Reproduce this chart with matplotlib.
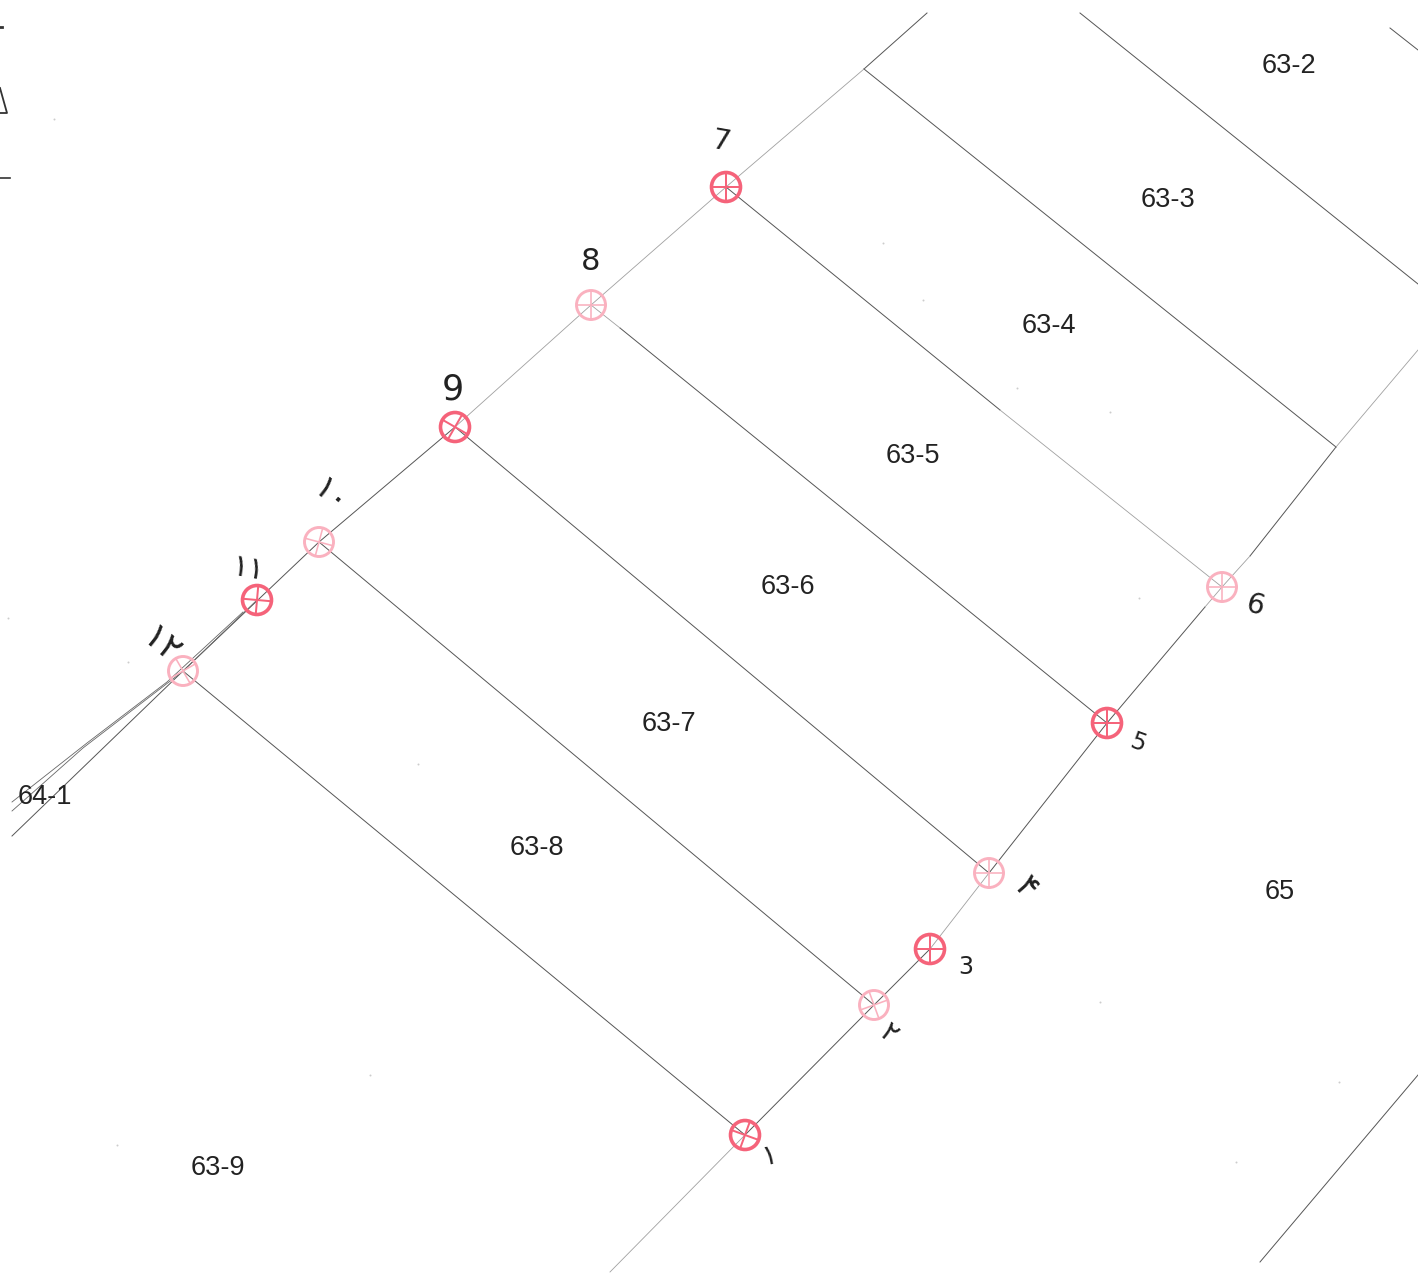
import matplotlib
matplotlib.use('Agg')
import matplotlib.pyplot as plt
import numpy as np

# parcel labels
parcel_names = ['63-2', '63-3', '63-4', '63-5', '63-6', '63-7', '63-8', '63-9', '64-1', '65']
parcel_x = [1289, 1168, 1049, 913, 788, 669, 537, 218, 45, 1280]
parcel_y = [66, 200, 326, 456, 587, 724, 848, 1168, 797, 892]

# survey points 1..12
point_x = [745, 874, 930, 989, 1107, 1222, 726, 591, 455, 319, 257, 183]
point_y = [1135, 1005, 949, 873, 723, 587, 187, 305, 427, 542, 600, 671]
point_dark = [1, 0, 1, 0, 1, 0, 1, 0, 1, 0, 1, 0]
point_spoke = [20, 70, 0, 0, 0, 0, 0, 0, 30, 15, 5, 60]

# handwritten numbers beside the points
hand_labels = ['۱', '۲', '3', '۴', '5', '6', '7', '8', '9', '۱۰', '۱۱', '۱۲']
hand_x = [769, 889, 966, 1026, 1138, 1255, 721, 591, 453, 330, 248, 160]
hand_y = [1156, 1034, 967, 888, 743, 606, 142, 262, 390, 496, 569, 646]
hand_rot = [10, -40, 0, -50, -20, -15, -10, 0, 0, -40, -10, -40]
hand_size = [20, 20, 17, 24, 17, 20, 21, 22, 25, 24, 22, 26]

# black survey lines: x0, y0, x1, y1
lines_dark = [
    (12, 836, 183, 671), (183, 671, 319, 542), (319, 542, 455, 427),
    (183, 671, 745, 1135), (319, 542, 874, 1005), (455, 427, 989, 873),
    (864, 69, 1336, 447), (1080, 13, 1418, 284),
    (1390, 28, 1418, 50), (745, 1135, 874, 1005), (874, 1005, 930, 949),
    (989, 873, 1107, 723), (1260, 1262, 1418, 1075),
    (864, 69, 927, 13), (726, 187, 1000, 410), (620, 328, 1107, 723),
    (1107, 723, 1205, 607), (1250, 556, 1336, 447),
]
lines_light = [
    (455, 427, 591, 305), (591, 305, 726, 187), (726, 187, 864, 69),
    (610, 1272, 745, 1135), (930, 949, 989, 873), (1222, 587, 1250, 556),
    (1336, 447, 1418, 350), (1000, 410, 1222, 587), (591, 305, 620, 328),
    (1205, 607, 1222, 587),
]
# the two extra lines running off to 64-1
double_x = [[12, 87, 167, 243], [12, 83, 182, 257]]
double_y = [[802, 743, 682, 612], [811, 748, 672, 600]]

speck_x = [54, 883, 923, 1139, 1110, 418, 370, 117, 1017, 1339, 1236, 1100, 128, 8]
speck_y = [119, 243, 300, 598, 412, 764, 1075, 1145, 388, 1082, 1162, 1002, 662, 618]

fig = plt.figure(figsize=(14.18, 12.8), dpi=100)
ax = fig.add_axes([0, 0, 1, 1])
ax.set_xlim(0, 1418)
ax.set_ylim(1280, 0)
ax.axis('off')

for x0, y0, x1, y1 in lines_dark:
    ax.plot([x0, x1], [y0, y1], color='#555555', lw=0.7)
for x0, y0, x1, y1 in lines_light:
    ax.plot([x0, x1], [y0, y1], color='#a0a0a0', lw=0.6)
for xs, ys in zip(double_x, double_y):
    ax.plot(xs, ys, color='#666666', lw=0.6)

ax.scatter(speck_x, speck_y, s=2, color='#cccccc', linewidths=0)

# points: ring with four spokes
for x, y, dark, spoke in zip(point_x, point_y, point_dark, point_spoke):
    col = '#f5637a' if dark else '#fab1bf'
    lw = 2.6 if dark else 2.1
    ax.add_patch(plt.Circle((x, y), 14.5, fill=False, ec=col, lw=lw, zorder=3))
    for a in np.deg2rad([spoke, spoke + 90]):
        dx, dy = 14.5 * np.cos(a), 14.5 * np.sin(a)
        ax.plot([x - dx, x + dx], [y - dy, y + dy], color=col, lw=lw * 0.55, zorder=3)

for name, x, y in zip(parcel_names, parcel_x, parcel_y):
    ax.text(x, y, name, fontsize=19.5, family='Liberation Sans', color='#222222',
            ha='center', va='center')

for lab, x, y, rot, size in zip(hand_labels, hand_x, hand_y, hand_rot, hand_size):
    ax.text(x, y, lab, fontsize=size, family='DejaVu Sans', color='#222222',
            ha='center', va='center', rotation=rot)

# bits of the page cut off at the left edge
ax.plot([0, 7, 0], [88, 113, 113], color='#333333', lw=1.3)
ax.plot([0, 10], [178, 178], color='#333333', lw=1.2)
ax.plot([0, 2], [27, 27], color='#333333', lw=2)

fig.savefig('out.png', dpi=100, facecolor='white')
